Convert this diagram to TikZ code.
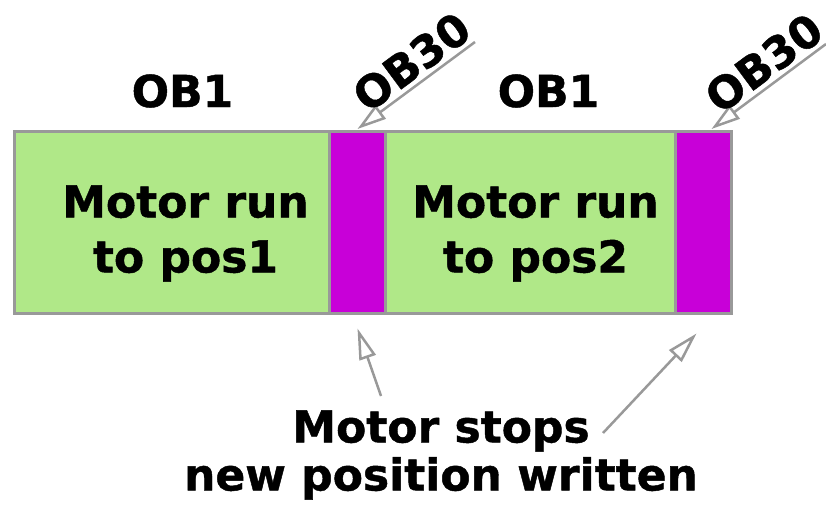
\documentclass[tikz,border=0pt]{standalone}
\usepackage{fontspec}
\setmainfont{DejaVu Sans}
\newfontfamily\heavyfont{DejaVu Sans Bold}[FakeBold=1]
\usetikzlibrary{arrows.meta}

\definecolor{runfill}{RGB}{176,232,136}
\definecolor{intfill}{RGB}{200,0,216}
\definecolor{edgegray}{RGB}{153,153,153}

\tikzset{
  slot/.style={draw=edgegray, line width=3pt, inner sep=0pt, outer sep=0pt,
    anchor=north west, minimum height=182.5pt},
  runslot/.style={slot, fill=runfill},
  intslot/.style={slot, fill=intfill, minimum width=56pt},
  bigtext/.style={font=\fontsize{44}{55}\selectfont\heavyfont, inner sep=0pt},
  pointer/.style={draw=edgegray, line width=2.5pt,
    -{Triangle[open, length=31pt, width=17pt]}},
  backpointer/.style={draw=edgegray, line width=2.5pt,
    {Triangle[open, length=29pt, width=17pt]}-},
}

\begin{document}
\begin{tikzpicture}[x=1pt, y=-1pt]
  \useasboundingbox (0,0) rectangle (826,506);

  % time line: two OB1 cycles, each followed by an OB30 interrupt
  \node[runslot, minimum width=315pt] (g1) at (14.5,131) {};
  \node[intslot] (m1) at (g1.north east) {};
  \node[runslot, minimum width=290pt] (g2) at (m1.north east) {};
  \node[intslot] (m2) at (g2.north east) {};

  % cycle labels
  \node[bigtext, anchor=base] (ob1a) at (182.5,107) {OB1};
  \node[bigtext, anchor=base] (ob1b) at (548.5,107) {OB1};

  \node[bigtext, align=center] (t1) at (185.5,233.5) {Motor run\\to pos1};
  \node[bigtext, align=center] (t2) at (535.5,233.5) {Motor run\\to pos2};

  % OB30 markers with sloped labels
  \coordinate (q1) at (475,42);
  \coordinate (q2) at (826,44);
  \draw[backpointer] ([yshift=2pt]m1.north) -- node[bigtext, sloped, above,
    pos=0.57, inner sep=4pt] (ob30a) {OB30} (q1);
  \draw[backpointer] ([xshift=8pt,yshift=2pt]m2.north) -- node[bigtext, sloped,
    above, pos=0.57, inner sep=4pt] (ob30b) {OB30} (q2);

  % note below the time line
  \node[font=\fontsize{44}{48}\selectfont\heavyfont, align=center, inner sep=0pt]
    (note) at (441,455) {Motor stops\\new position written};
  \coordinate (p1) at (381,396);
  \coordinate (p2) at (603,433);
  \draw[pointer] (p1) -- ([yshift=-15pt]m1.south);
  \draw[pointer] (p2) -- ([xshift=-7pt,yshift=-20pt]m2.south);
\end{tikzpicture}
\end{document}
